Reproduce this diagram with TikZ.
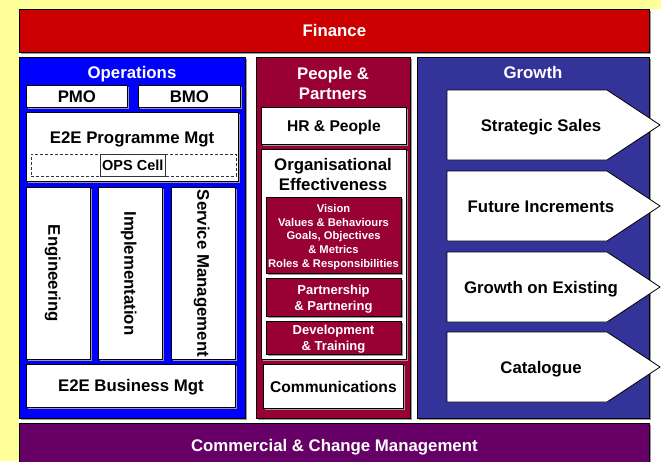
\documentclass[tikz,border=0pt]{standalone}
\usepackage{fontspec}
\setmainfont{Liberation Sans}
\usetikzlibrary{shadows}
\definecolor{bgyellow}{HTML}{FFFF99}
\definecolor{finred}{HTML}{CC0000}
\definecolor{opsblue}{HTML}{0000FF}
\definecolor{pplred}{HTML}{990033}
\definecolor{grwblue}{HTML}{333399}
\definecolor{compurple}{HTML}{660066}
\tikzset{
  every node/.style={font=\bfseries\fontsize{16.8}{20}\selectfont, inner sep=0pt, align=center},
  ln/.style={text height=12pt, text depth=0pt},
  panel/.style={draw=black, line width=0.8pt, anchor=north west, rectangle,
    drop shadow={shadow xshift=1.2pt, shadow yshift=-1.2pt, fill=black!40, opacity=1}},
  whitebox/.style={panel, fill=white},
  subbox/.style={panel, fill=pplred},
  title/.style={text=white},
  arrowbox/.style={draw=black, line width=0.8pt, fill=white},
  smallfont/.style={font=\bfseries\fontsize{11.2}{13.7}\selectfont, text=white},
  medfont/.style={font=\bfseries\fontsize{13}{16}\selectfont, text=white},
  hrfont/.style={font=\bfseries\fontsize{15.6}{20}\selectfont, text height=11.2pt, text depth=0pt},
}
\begin{document}
\begin{tikzpicture}[x=1pt, y=-1pt]
\useasboundingbox (0,0) rectangle (661,461);
\fill[bgyellow] (0,0) rectangle (661,461);
\fill[white] (19,9) rectangle (661,461);

% Finance
\node[panel, ln, fill=finred, text=white, minimum width=630pt, minimum height=43pt] (fin) at (19,9) {Finance};

% Operations
\node[panel, fill=opsblue, minimum width=226pt, minimum height=361pt] (ops) at (19,57) {};
\node[title, ln] (opsT) at (132,72) {Operations};
\node[whitebox, ln, minimum width=101pt, minimum height=22pt] (pmo) at (26,85) {PMO};
\node[whitebox, ln, minimum width=102pt, minimum height=22pt] (bmo) at (138,85) {BMO};
\node[whitebox, minimum width=212pt, minimum height=69pt] (e2ep) at (26,112) {};
\node[ln] (e2epT) at (132,137) {E2E Programme Mgt};
\node[draw=black!80, line width=0.6pt, densely dashed, anchor=north west, minimum width=205pt, minimum height=22pt] (opsdash) at (31,154) {};
\node[draw=black!80, line width=0.6pt, anchor=north west, minimum width=65pt, minimum height=22pt, font=\bfseries\fontsize{14.5}{16}\selectfont, text height=10.4pt, text depth=0pt] (opscell) at (100,154) {OPS Cell};
\node[whitebox, minimum width=64pt, minimum height=172pt] (eng) at (26,187) {};
\node[rotate=-90, ln] (engT) at ([xshift=-4pt]eng.center) {Engineering};
\node[whitebox, minimum width=64pt, minimum height=172pt] (imp) at (98,187) {};
\node[rotate=-90, ln] (impT) at (imp.center) {Implementation};
\node[whitebox, minimum width=64pt, minimum height=172pt] (svc) at (171,187) {};
\node[rotate=-90, ln] (svcT) at (svc.center) {Service Management};
\node[whitebox, ln, minimum width=209pt, minimum height=43pt] (e2eb) at (26,364) {E2E Business Mgt};

% People & Partners
\node[panel, fill=pplred, minimum width=154pt, minimum height=361pt] (ppl) at (256,57) {};
\node[title] (pplT) at (333,83) {People \&\\Partners};
\node[whitebox, hrfont, minimum width=145pt, minimum height=37pt] (hr) at (261,107) {HR \& People};
\node[whitebox, minimum width=145pt, minimum height=210pt] (org) at (261,149) {};
\node (orgT) at (333,174) {Organisational\\Effectiveness};
\node[subbox, minimum width=135pt, minimum height=76pt] (vis) at (266,197) {};
\node[smallfont] (visT) at (333.5,237) {Vision\\Values \& Behaviours\\Goals, Objectives\\\& Metrics\\Roles \& Responsibilities};
\node[subbox, minimum width=135pt, minimum height=38pt] (part) at (266,278) {};
\node[medfont] (partT) at (333.5,299) {Partnership\\\& Partnering};
\node[subbox, minimum width=135pt, minimum height=33pt] (dev) at (266,321) {};
\node[medfont] (devT) at (333.5,339) {Development\\\& Training};
\node[whitebox, hrfont, minimum width=140pt, minimum height=44pt] (comm) at (263,364) {Communications};

% Growth
\node[panel, fill=grwblue, minimum width=232pt, minimum height=361pt] (grw) at (417,57) {};
\node[title, ln] (grwT) at (533,72) {Growth};
\draw[arrowbox] (447,90) -- (607,90) -- (660,125) -- (607,160) -- (447,160) -- cycle;
\node[ln] (ss) at (541,125) {Strategic Sales};
\draw[arrowbox] (447,171) -- (607,171) -- (660,206) -- (607,241) -- (447,241) -- cycle;
\node[ln] (fi) at (541,206) {Future Increments};
\draw[arrowbox] (447,252) -- (607,252) -- (660,287) -- (607,322) -- (447,322) -- cycle;
\node[ln] (ge) at (541,287) {Growth on Existing};
\draw[arrowbox] (447,332) -- (607,332) -- (660,367) -- (607,402) -- (447,402) -- cycle;
\node[ln] (cat) at (541,367) {Catalogue};

% Commercial
\node[panel, ln, fill=compurple, text=white, minimum width=630pt, minimum height=45pt] (com) at (19,423) {Commercial \& Change Management};
\end{tikzpicture}
\end{document}
